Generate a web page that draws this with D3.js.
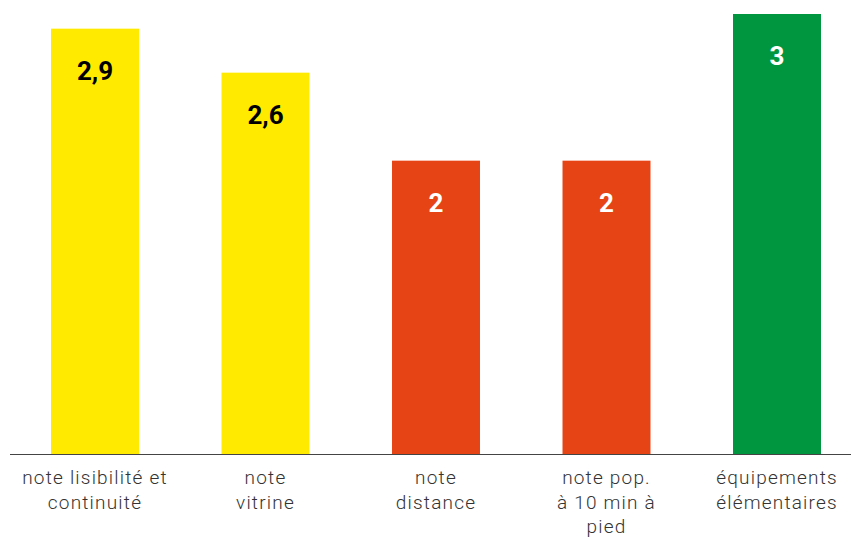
<!DOCTYPE html>
<html>
<head>
<meta charset="utf-8">
<script src="https://cdn.jsdelivr.net/npm/d3@7"></script>
<style>
  html, body { margin: 0; padding: 0; background: #fff; }
  svg { display: block; }
</style>
</head>
<body>
<svg id="chart" width="851" height="537"></svg>
<script>
// Scores per indicator
const categories = [
  "note lisibilité et\ncontinuité",
  "note\nvitrine",
  "note\ndistance",
  "note pop.\nà 10 min à\npied",
  "équipements\nélémentaires"
];
const values = [2.9, 2.6, 2, 2, 3];
const valueLabels = ["2,9", "2,6", "2", "2", "3"];
const barColors = ["#FFEA00", "#FFEA00", "#E64415", "#E64415", "#009640"];
const labelColors = ["#000000", "#000000", "#ffffff", "#ffffff", "#ffffff"];

const svg = d3.select("#chart");
const baseY = 454;

const x = d3.scaleBand()
  .domain(categories)
  .range([9.75, 862.25])
  .paddingInner(0.484)
  .paddingOuter(0.242);

const y = d3.scaleLinear()
  .domain([0, 3])
  .range([baseY, 14]);

// Bars
svg.selectAll("rect.bar")
  .data(categories)
  .join("rect")
  .attr("class", "bar")
  .attr("x", d => x(d))
  .attr("y", (d, i) => y(values[i]))
  .attr("width", x.bandwidth())
  .attr("height", (d, i) => y(0) - y(values[i]))
  .attr("fill", (d, i) => barColors[i]);

// Value labels inside the top of each bar
svg.selectAll("text.value")
  .data(categories)
  .join("text")
  .attr("class", "value")
  .attr("x", d => x(d) + x.bandwidth() / 2)
  .attr("y", (d, i) => y(values[i]) + 51)
  .attr("text-anchor", "middle")
  .attr("font-family", "Roboto, 'DejaVu Sans', sans-serif")
  .attr("font-weight", "bold")
  .attr("font-size", 26)
  .attr("fill", (d, i) => labelColors[i])
  .text((d, i) => valueLabels[i]);

// Baseline
svg.append("line")
  .attr("x1", 10)
  .attr("x2", 851)
  .attr("y1", baseY + 0.5)
  .attr("y2", baseY + 0.5)
  .attr("stroke", "#444")
  .attr("stroke-width", 1.2);

// Category labels (multi-line)
const cat = svg.selectAll("text.cat")
  .data(categories)
  .join("text")
  .attr("class", "cat")
  .attr("text-anchor", "middle")
  .attr("font-family", "Roboto, 'DejaVu Sans', sans-serif")
  .attr("font-weight", 300)
  .attr("font-size", 19)
  .attr("letter-spacing", 1.2)
  .attr("fill", "#333");

cat.each(function(d) {
  const cx = x(d) + x.bandwidth() / 2;
  d3.select(this).selectAll("tspan")
    .data(d.split("\n"))
    .join("tspan")
    .attr("x", cx)
    .attr("y", (l, j) => 484 + j * 24.5)
    .text(l => l);
});
</script>
</body>
</html>
